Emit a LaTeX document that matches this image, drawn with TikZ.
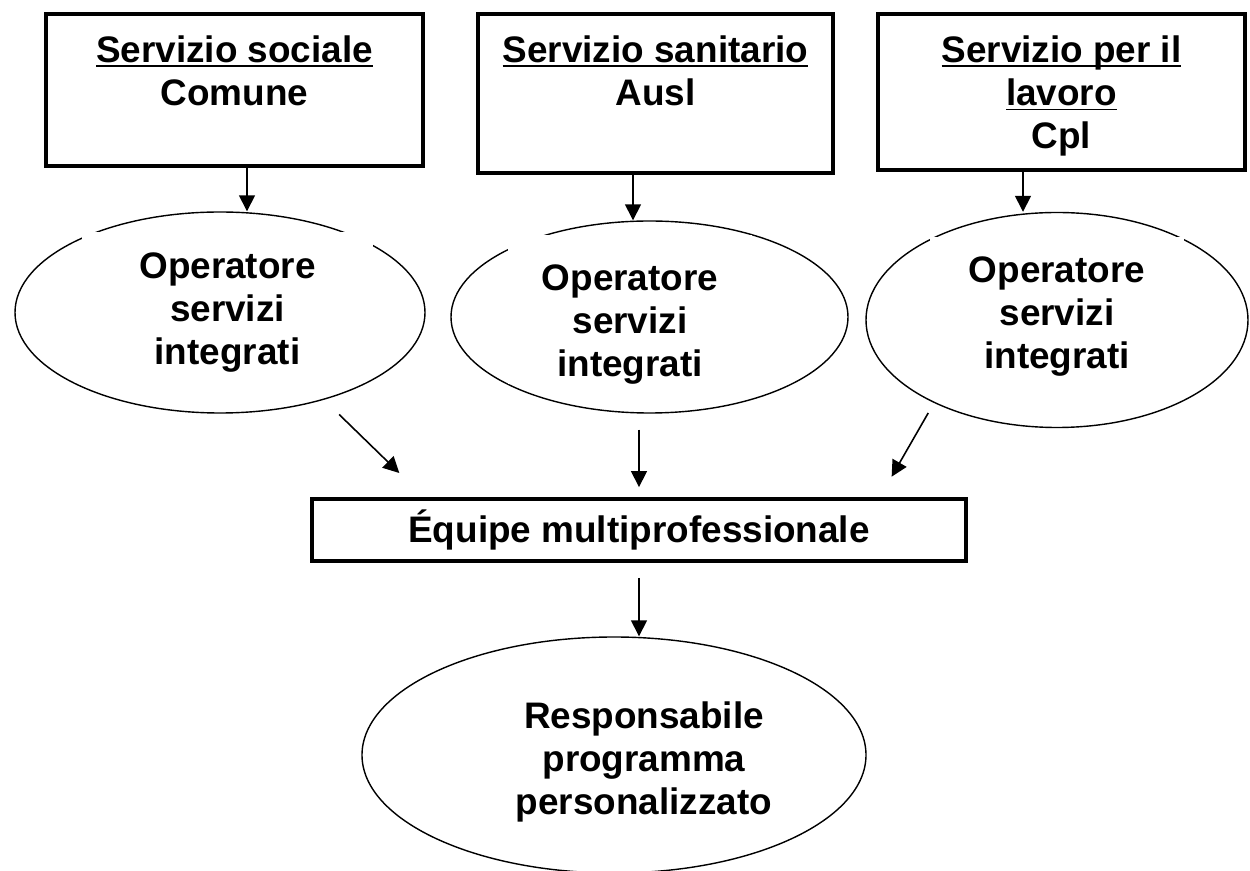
\documentclass[tikz,border=0pt]{standalone}
\usepackage{fontspec}
\setmainfont{Liberation Sans}
\usetikzlibrary{shapes.geometric, arrows.meta, positioning}
\newsavebox{\sottobox}
\newcommand{\sotto}[1]{\sbox{\sottobox}{#1}\rlap{\rule[-3pt]{\wd\sottobox}{1.1pt}}\usebox{\sottobox}}
\tikzstyle{servizio} = [rectangle, draw, line width=2.2pt, inner sep=0pt]
\tikzstyle{ovale} = [ellipse, draw, line width=0.8pt, inner sep=0pt]
\tikzstyle{testo} = [inner sep=0pt, align=center, font=\bfseries\fontsize{21}{24.5}\selectfont]
\tikzstyle{arrow} = [line width=0.9pt, -{Triangle[length=0.32cm, width=0.32cm]}]

\begin{document}
\begin{tikzpicture}
    \useasboundingbox (0,0) rectangle (25,-17.42);
    % servizi
    \node [servizio, minimum width=7.54cm, minimum height=3.04cm] at (4.69,-1.80) (soc) {};
    \node [servizio, minimum width=7.10cm, minimum height=3.18cm] at (13.11,-1.87) (san) {};
    \node [servizio, minimum width=7.34cm, minimum height=3.12cm] at (21.23,-1.84) (lav) {};
    \node [testo, below=0.46cm of soc.north] (soctxt) {\sotto{Servizio sociale}\\Comune};
    \node [testo, below=0.46cm of san.north] (santxt) {\sotto{Servizio sanitario}\\Ausl};
    \node [testo, below=0.46cm of lav.north] (lavtxt) {\sotto{Servizio per il}\\\sotto{lavoro}\\Cpl};
    % operatori
    \node [ovale, minimum width=8.20cm, minimum height=4.02cm] at (4.40,-6.25) (op1) {};
    \node [ovale, minimum width=7.94cm, minimum height=3.84cm] at (12.99,-6.34) (op2) {};
    \node [ovale, minimum width=7.64cm, minimum height=4.30cm] at (21.14,-6.40) (op3) {};
    \node [testo, fill=white, anchor=north, minimum width=5.82cm] at (4.55,-4.64) (op1txt) {\rule{0pt}{0.92cm}Operatore\\servizi\\integrati};
    \node [testo, fill=white, anchor=north, minimum width=4.88cm] at (12.60,-4.70) (op2txt) {\rule{0pt}{1.10cm}Operatore\\servizi\\integrati};
    \node [testo, fill=white, anchor=north, minimum width=5.08cm] at (21.14,-4.74) (op3txt) {\rule{0pt}{0.90cm}Operatore\\servizi\\integrati};
    % equipe e responsabile
    \node [servizio, minimum width=13.08cm, minimum height=1.24cm, font=\bfseries\fontsize{21}{24.5}\selectfont] at (12.78,-10.60) (equipe) {Équipe multiprofessionale};
    \node [ovale, minimum width=10.08cm, minimum height=4.72cm] at (12.28,-15.10) (resp) {};
    \node [testo, anchor=north] at (12.88,-14.02) (resptxt) {Responsabile\\programma\\personalizzato};
    % frecce
    \draw [arrow] ([xshift=0.25cm]soc.south) -- ([xshift=0.25cm]soc.south |- op1.north);
    \draw [arrow] ([xshift=-0.45cm]san.south) -- ([xshift=-0.45cm]san.south |- op2.north);
    \draw [arrow] ([xshift=-0.77cm]lav.south) -- ([xshift=-0.77cm]lav.south |- op3.north);
    \draw [arrow, shorten <=0.42cm, shorten >=0.69cm] (op1.-40) -- ([xshift=2.28cm]equipe.north west);
    \draw [arrow, shorten <=0.32cm, shorten >=0.2cm] (op2.south -| equipe.north) -- (equipe.north);
    \draw [arrow, shorten <=0.23cm, shorten >=0.47cm] (op3.214.5) -- ([xshift=-1.76cm]equipe.north east);
    \draw [arrow, shorten <=0.3cm] (equipe.south) -- (equipe.south |- resp.north);
\end{tikzpicture}
\end{document}
